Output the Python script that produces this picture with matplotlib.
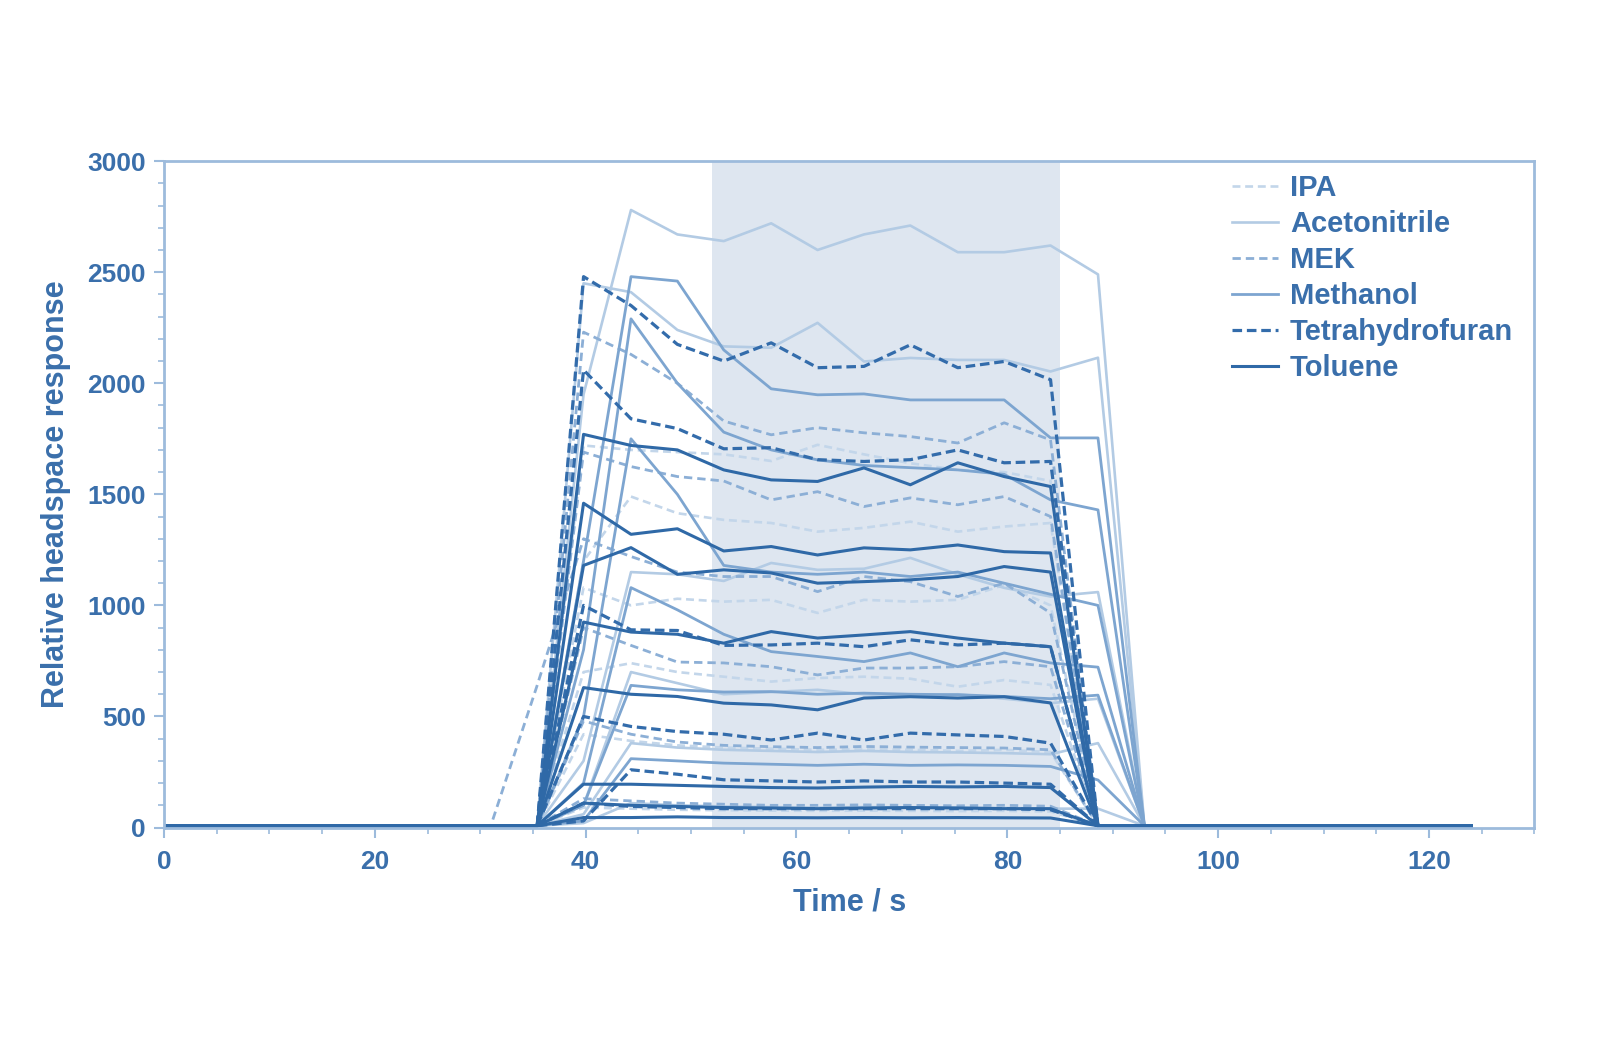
import numpy as np
import matplotlib
matplotlib.use("Agg")
import matplotlib.pyplot as plt
from matplotlib.ticker import MultipleLocator

plt.rcParams['font.family'] = ['Liberation Sans', 'DejaVu Sans']
plt.rcParams['font.weight'] = 'bold'

# sample times (s) of the headspace readings
time = [35.4, 39.8, 44.3, 48.7, 53.1, 57.6, 62.0, 66.4, 70.8, 75.3, 79.7, 84.1, 88.6, 93.0]
lead_time = [0, 31.0]
tail_time = [124.0]
baseline = 8

ipa = [
    [8, 1720, 1700, 1690, 1680, 1650, 1723, 1680, 1640, 1610, 1600, 1560, 8, 8],
    [8, 1200, 1490, 1415, 1385, 1371, 1332, 1349, 1377, 1332, 1355, 1371, 8, 8],
    [8, 1080, 1000, 1030, 1017, 1025, 966, 1025, 1017, 1025, 1092, 1000, 8, 8],
    [8, 700, 740, 700, 679, 657, 673, 679, 670, 634, 664, 642, 8, 8],
    [8, 420, 390, 370, 360, 355, 350, 352, 350, 345, 350, 340, 8, 8],
    [8, 90, 85, 80, 78, 76, 75, 76, 75, 74, 75, 72, 8, 8],
]
acetonitrile = [
    [8, 1950, 2780, 2670, 2640, 2720, 2600, 2670, 2710, 2590, 2590, 2620, 2490, 8],
    [8, 2450, 2410, 2240, 2166, 2160, 2272, 2098, 2114, 2105, 2105, 2053, 2115, 8],
    [8, 300, 1150, 1140, 1110, 1191, 1160, 1165, 1214, 1140, 1079, 1040, 1060, 8],
    [8, 100, 700, 650, 600, 610, 620, 600, 590, 600, 580, 560, 580, 8],
    [8, 60, 380, 360, 350, 345, 340, 345, 340, 338, 335, 330, 380, 8],
    [8, 20, 110, 100, 95, 92, 90, 92, 90, 90, 88, 85, 85, 8],
]
mek = [
    [8, 2230, 2130, 2000, 1830, 1768, 1800, 1777, 1760, 1731, 1822, 1745, 8, 8],
    [8, 1690, 1625, 1580, 1560, 1475, 1512, 1445, 1484, 1453, 1490, 1400, 8, 8],
    [640, 1300, 1220, 1150, 1130, 1130, 1062, 1130, 1107, 1040, 1100, 966, 8, 8],
    [8, 900, 820, 745, 741, 724, 687, 718, 718, 724, 747, 724, 8, 8],
    [8, 480, 420, 385, 370, 364, 360, 365, 362, 360, 358, 350, 8, 8],
    [8, 130, 120, 110, 105, 100, 100, 102, 100, 98, 100, 96, 8, 8],
]
methanol = [
    [8, 1200, 2480, 2460, 2150, 1975, 1948, 1952, 1925, 1925, 1925, 1754, 1754, 8],
    [8, 800, 2290, 2000, 1780, 1700, 1655, 1630, 1620, 1610, 1590, 1475, 1430, 8],
    [8, 500, 1750, 1500, 1180, 1150, 1140, 1150, 1130, 1150, 1100, 1050, 1000, 8],
    [8, 200, 1080, 980, 870, 792, 770, 747, 786, 724, 786, 741, 722, 8],
    [8, 100, 640, 620, 610, 612, 600, 605, 600, 598, 590, 580, 596, 8],
    [8, 30, 310, 300, 290, 285, 280, 285, 280, 282, 280, 275, 214, 8],
]
thf = [
    [8, 2480, 2350, 2175, 2100, 2182, 2070, 2076, 2173, 2070, 2098, 2016, 8, 8],
    [8, 2060, 1840, 1796, 1705, 1710, 1656, 1648, 1656, 1700, 1642, 1648, 8, 8],
    [8, 1000, 890, 887, 820, 822, 830, 814, 845, 822, 830, 814, 8, 8],
    [8, 500, 455, 432, 420, 394, 425, 394, 425, 417, 410, 380, 8, 8],
    [8, 30, 260, 240, 215, 210, 205, 210, 205, 205, 200, 195, 8, 8],
    [8, 110, 95, 90, 85, 85, 85, 85, 85, 85, 85, 80, 8, 8],
]
toluene = [
    [8, 1770, 1720, 1700, 1610, 1565, 1558, 1619, 1543, 1642, 1580, 1535, 8, 8],
    [8, 1460, 1320, 1345, 1245, 1265, 1227, 1259, 1250, 1272, 1242, 1236, 8, 8],
    [8, 1180, 1260, 1140, 1160, 1146, 1100, 1107, 1115, 1130, 1175, 1150, 8, 8],
    [8, 925, 880, 870, 830, 882, 853, 867, 882, 853, 830, 814, 8, 8],
    [8, 630, 600, 590, 560, 552, 530, 583, 589, 583, 589, 561, 8, 8],
    [8, 195, 195, 190, 185, 180, 178, 182, 185, 183, 185, 180, 8, 8],
    [8, 110, 100, 95, 90, 88, 85, 88, 90, 88, 85, 85, 8, 8],
    [8, 45, 45, 48, 45, 45, 44, 45, 44, 45, 44, 43, 8, 8],
]

solvents = ["IPA", "Acetonitrile", "MEK", "Methanol", "Tetrahydrofuran", "Toluene"]
series = [ipa, acetonitrile, mek, methanol, thf, toluene]
colors = ["#c3d6ea", "#b3cbe4", "#8cafd6", "#7da5d0", "#336cab", "#2f69a7"]
styles = [(0, (3, 1.8)), "-", (0, (3, 1.8)), "-", (0, (3, 1.5)), "-"]
widths = [1.9, 1.9, 2.0, 2.0, 2.3, 2.2]

blue = "#3a6fab"
spine = "#9dbbdc"

fig = plt.figure(figsize=(16, 10.6), dpi=100)
ax = fig.add_axes([0.1025, 0.2193, 0.8565, 0.6287])

ax.axvspan(52, 85, color="#dee6f0", zorder=0, lw=0)

t_full = lead_time + time + tail_time
for name, runs, c, ls, lw in zip(solvents, series, colors, styles, widths):
    for k, vals in enumerate(runs):
        y = [baseline, baseline] + vals + [baseline]
        ax.plot(t_full, y, color=c, ls=ls, lw=lw, label=name if k == 0 else None, zorder=2)

ax.set_xlim(0, 130)
ax.set_ylim(0, 3000)
ax.xaxis.set_major_locator(MultipleLocator(20))
ax.xaxis.set_minor_locator(MultipleLocator(5))
ax.yaxis.set_major_locator(MultipleLocator(500))
ax.yaxis.set_minor_locator(MultipleLocator(100))

for s in ax.spines.values():
    s.set_color(spine)
    s.set_linewidth(2)
ax.tick_params(which="major", direction="out", length=7, width=1.5, color=spine,
               labelcolor=blue, labelsize=19, pad=6)
ax.tick_params(axis="x", which="major", pad=9)
ax.tick_params(which="minor", direction="out", length=4, width=1.2, color=spine)
for lab in ax.get_xticklabels() + ax.get_yticklabels():
    lab.set_fontweight("bold")

ax.set_xlabel("Time / s", fontsize=22, fontweight="bold", color=blue, labelpad=10)
ax.set_ylabel("Relative headspace response", fontsize=22, fontweight="bold", color=blue, labelpad=12)

leg = ax.legend(loc="upper left", bbox_to_anchor=(0.779, 0.98), frameon=False,
                fontsize=21, handlelength=1.6, handletextpad=0.4, labelspacing=0.27,
                borderaxespad=0, borderpad=0)
for txt in leg.get_texts():
    txt.set_color(blue)
    txt.set_fontweight("bold")

fig.savefig("out.png", dpi=100, facecolor="white")
